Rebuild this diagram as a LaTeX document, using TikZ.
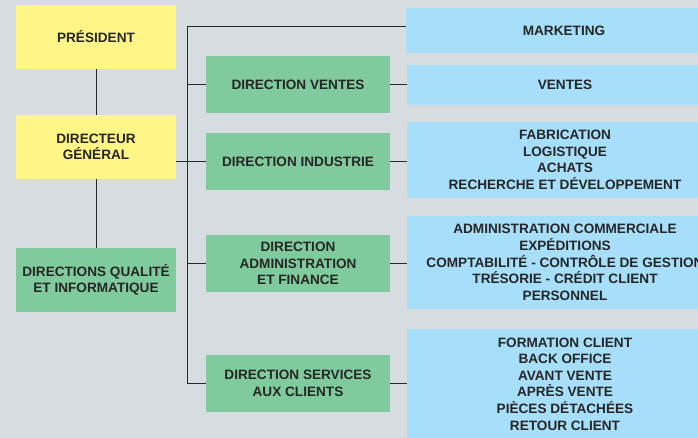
\documentclass[tikz,border=0pt]{standalone}
\usepackage{fontspec}
\setmainfont{Liberation Sans}
\usepackage{tikz}
\definecolor{org_bg}{RGB}{215, 220, 224}
\definecolor{org_yellow}{RGB}{255, 246, 135}
\definecolor{org_green}{RGB}{128, 203, 157}
\definecolor{org_blue}{RGB}{167, 223, 250}
\definecolor{org_line}{RGB}{40, 40, 40}
\definecolor{org_text}{RGB}{38, 38, 38}
\newcommand{\orgfont}{\fontsize{13.6}{16.6}\selectfont\bfseries}
\tikzstyle{yb}=[rectangle,fill=org_yellow,text=org_text,font=\orgfont,
  align=center,inner sep=0pt,minimum width=160pt,minimum height=64pt]
\tikzstyle{gb}=[rectangle,fill=org_green,text=org_text,font=\orgfont,
  align=center,inner sep=0pt,minimum width=184pt,minimum height=57pt]
\tikzstyle{bb}=[rectangle,fill=org_blue,text=org_text,font=\orgfont,
  align=center,inner sep=0pt,minimum width=316pt]
\tikzstyle{link}=[draw=org_line,line width=1pt]

\begin{document}
\begin{tikzpicture}[x=1pt,y=-1pt]
    \useasboundingbox (0,0) rectangle (698,438);
    \clip (0,0) rectangle (698,438);
    \fill [org_bg] (0,0) rectangle (698,438);
    \node [style=yb] (pres) at (96,37) {PRÉSIDENT};
    \node [style=yb] (dg) at (96,147) {DIRECTEUR\\GÉNÉRAL};
    \node [style=gb, minimum width=160pt, minimum height=64pt] (qual) at (96,280) {DIRECTIONS QUALITÉ\\ET INFORMATIQUE};
    \node [style=gb] (ven) at (298,84.5) {DIRECTION VENTES};
    \node [style=gb] (ind) at (298,161.5) {DIRECTION INDUSTRIE};
    \node [style=gb] (adm) at (298,263.5) {DIRECTION\\ADMINISTRATION\\ET FINANCE};
    \node [style=gb] (svc) at (298,383.5) {DIRECTION SERVICES\\AUX CLIENTS};
    \node [style=bb, minimum height=45pt] (mkt) at (564,30.5) {MARKETING};
    \node [style=bb, minimum height=40pt] (vts) at (565,85) {VENTES};
    \node [style=bb, minimum height=76pt] (fab) at (565,160) {FABRICATION\\LOGISTIQUE\\ACHATS\\RECHERCHE ET DÉVELOPPEMENT};
    \node [style=bb, minimum height=93pt] (gest) at (565,262.5) {ADMINISTRATION COMMERCIALE\\EXPÉDITIONS\\COMPTABILITÉ - CONTRÔLE DE GESTION\\TRÉSORIE - CRÉDIT CLIENT\\PERSONNEL};
    \node [style=bb, minimum height=110pt] (cli) at (565,384) {FORMATION CLIENT\\BACK OFFICE\\AVANT VENTE\\APRÈS VENTE\\PIÈCES DÉTACHÉES\\RETOUR CLIENT};
    \coordinate (bustop) at (187,27);
    \coordinate (busbot) at (187,383.5);
    \draw [style=link] (pres) to (dg);
    \draw [style=link] (dg) to (qual);
    \draw [style=link] (bustop) to (busbot);
    \draw [style=link] (bustop) to (bustop -| mkt.west);
    \draw [style=link] (ven.west -| bustop) to (ven.west);
    \draw [style=link] (ind.west -| dg.east) to (ind.west);
    \draw [style=link] (adm.west -| bustop) to (adm.west);
    \draw [style=link] (busbot) to (svc.west);
    \draw [style=link] (ven.east) to (ven.east -| vts.west);
    \draw [style=link] (ind.east) to (ind.east -| fab.west);
    \draw [style=link] (adm.east) to (adm.east -| gest.west);
    \draw [style=link] (svc.east) to (svc.east -| cli.west);
  \end{tikzpicture}
\end{document}
